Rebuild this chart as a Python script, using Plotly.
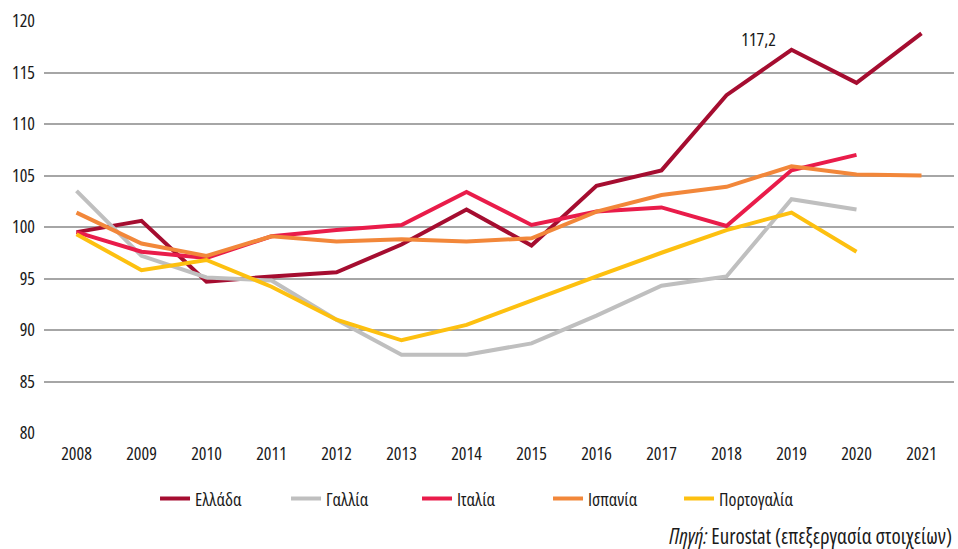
import plotly.graph_objects as go

years = list(range(2008, 2022))
greece = [99.5, 100.6, 94.7, 95.2, 95.6, 98.3, 101.7, 98.2, 104.0, 105.5, 112.8, 117.2, 114.0, 118.8]
france = [103.5, 97.2, 95.1, 94.8, 91.0, 87.6, 87.6, 88.7, 91.4, 94.3, 95.2, 102.7, 101.7, None]
italy = [99.5, 97.6, 97.0, 99.1, 99.7, 100.2, 103.4, 100.2, 101.5, 101.9, 100.1, 105.5, 107.0, None]
spain = [101.4, 98.4, 97.2, 99.1, 98.6, 98.8, 98.6, 98.9, 101.5, 103.1, 103.9, 105.9, 105.1, 105.0]
portugal = [99.3, 95.8, 96.8, 94.2, 91.0, 89.0, 90.5, 92.9, 95.2, 97.5, 99.7, 101.4, 97.6, None]

names = ["Ελλάδα", "Γαλλία", "Ιταλία", "Ισπανία", "Πορτογαλία"]
colors = ["#A50D30", "#BFBFBF", "#E91C4A", "#F2873A", "#FDC010"]
series = [greece, france, italy, spain, portugal]
yticks = [80, 85, 90, 95, 100, 105, 110, 115, 120]

FONT = "Open Sans, Roboto, sans-serif"
TXT = "#1a1a1a"

fig = go.Figure()
for n, c, s in zip(names, colors, series):
    fig.add_trace(go.Scatter(x=years, y=s, name=n, mode="lines",
                             line=dict(color=c, width=4), connectgaps=False))

fig.add_annotation(x=2019, y=greece[years.index(2019)], text="117,2", showarrow=False,
                   xanchor="right", yanchor="middle", align="right", xshift=-14, yshift=11,
                   font=dict(family=FONT, size=18, color=TXT))

fig.add_annotation(xref="paper", yref="paper", x=1.0, y=-0.25, xanchor="right", yanchor="middle",
                   align="right",
                   text="<i>Πηγή:</i> Eurostat (επεξεργασία στοιχείων)", showarrow=False,
                   font=dict(family=FONT, size=21, color=TXT))

fig.update_layout(
    width=958, height=549,
    margin=dict(l=44, r=4, t=21, b=116),
    paper_bgcolor="white", plot_bgcolor="white",
    font=dict(family=FONT, size=18, color=TXT),
    showlegend=True,
    legend=dict(orientation="h", x=0.122, xanchor="left", y=-0.115, yanchor="top",
                font=dict(family=FONT, size=18, color=TXT), itemwidth=30,
                entrywidth=86, entrywidthmode="pixels",
                traceorder="normal"),
    xaxis=dict(range=[2007.5, 2021.5], tickmode="array", tickvals=years,
               ticktext=[str(y) for y in years], showgrid=False, zeroline=False,
               showline=False, ticks="", ticklabelstandoff=8, tickfont=dict(size=18)),
    yaxis=dict(range=[80, 120], tickmode="array", tickvals=yticks,
               ticktext=[str(v) for v in yticks], showgrid=True, gridcolor="#A6A6A6",
               gridwidth=1.5, zeroline=False, showline=False, ticks="",
               ticklabelstandoff=8, tickfont=dict(size=18)),
)

post = """
document.body.style.margin='0';
var st=document.createElement('style');
st.textContent='.js-plotly-plot svg text{font-stretch:75% !important;}';
document.head.appendChild(st);
"""
fig.write_html("out.html", post_script=post, config={"displayModeBar": False})
